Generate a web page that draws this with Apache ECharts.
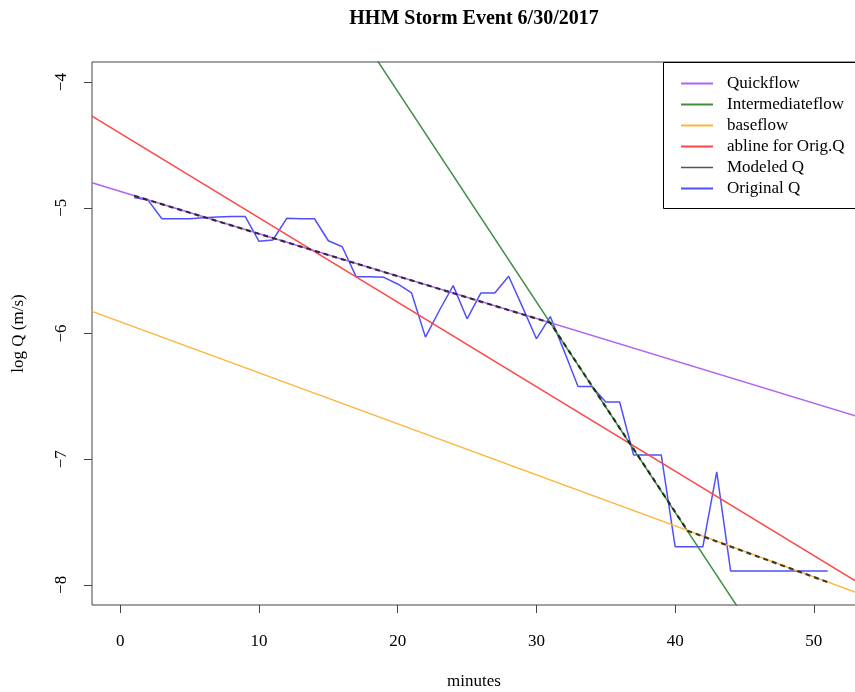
<!DOCTYPE html>
<html>
<head>
<meta charset="utf-8">
<title>HHM Storm Event 6/30/2017</title>
<script src="https://cdn.jsdelivr.net/npm/echarts@6/dist/echarts.min.js"></script>
<style>
  html, body { margin: 0; padding: 0; background: #fff; }
  #chart { width: 855px; height: 692px; }
</style>
</head>
<body>
<div id="chart"></div>
<script>
// Storm hydrograph recession, log discharge vs minutes
const minutes = [1, 2, 3, 4, 5, 6, 7, 8, 9, 10, 11, 12, 13, 14, 15, 16, 17, 18, 19, 20,
  21, 22, 23, 24, 25, 26, 27, 28, 29, 30, 31, 32, 33, 34, 35, 36, 37, 38, 39, 40,
  41, 42, 43, 44, 45, 46, 47, 48, 49, 50, 51];
const originalQ = [-4.918, -4.939, -5.087, -5.087, -5.087, -5.079, -5.074, -5.069, -5.069, -5.267,
  -5.256, -5.084, -5.087, -5.087, -5.262, -5.310, -5.548, -5.548, -5.553, -5.606,
  -5.677, -6.029, -5.817, -5.619, -5.883, -5.677, -5.677, -5.545, -5.790, -6.042,
  -5.865, -6.140, -6.421, -6.421, -6.545, -6.545, -6.966, -6.966, -6.966, -7.696,
  -7.696, -7.696, -7.100, -7.889, -7.889, -7.889, -7.889, -7.889, -7.889, -7.889,
  -7.889];

// Modeled Q: vertices of the piecewise recession (quick -> intermediate -> base)
const modeledX = [1, 31, 40.9, 51];
const modeledQ = [-4.904, -5.915, -7.570, -7.978];

// Straight reference lines, given by their values at the x-axis limits
const lineX = [-2.04, 53.04];
const quickflowQ = [-4.801, -6.657];
const intermediateQ = [-0.385, -9.605];
const baseflowQ = [-5.824, -8.060];
const ablineQ = [-4.270, -7.971];

const xTicks = [0, 10, 20, 30, 40, 50];
const yTicks = [-8, -7, -6, -5, -4];
const xRange = [-2.04, 53.04];
const yRange = [-8.16, -3.84];

const pairs = (xs, ys) => xs.map((x, i) => [x, ys[i]]);
const serif = 'Liberation Serif';
const minus = v => String(v).replace('-', '\u2212');

const chart = echarts.init(document.getElementById('chart'));

const lineSeries = (name, xs, ys, color, extra) => Object.assign({
  name: name,
  type: 'line',
  data: pairs(xs, ys),
  symbol: 'none',
  clip: true,
  lineStyle: { color: color, width: 1.5 },
  itemStyle: { color: color },
  emphasis: { disabled: true },
  animation: false
}, extra || {});

chart.setOption({
  animation: false,
  backgroundColor: '#fff',
  grid: { left: 92, top: 62, width: 764, height: 543, show: true, borderColor: '#444', borderWidth: 1,
    backgroundColor: 'transparent', containLabel: false, outerBoundsMode: 'none' },
  xAxis: {
    type: 'value', min: xRange[0], max: xRange[1],
    name: 'minutes', nameLocation: 'middle', nameGap: 68,
    nameTextStyle: { fontFamily: serif, fontSize: 17, color: '#000' },
    axisLine: { show: false, onZero: false },
    splitLine: { show: false },
    axisTick: { show: true, length: 8, lineStyle: { color: '#444' }, customValues: xTicks },
    axisLabel: { fontFamily: serif, fontSize: 17, color: '#000', margin: 28, customValues: xTicks }
  },
  yAxis: {
    type: 'value', min: yRange[0], max: yRange[1],
    name: 'log Q (m/s)', nameLocation: 'middle', nameGap: 65, nameRotate: 90,
    nameTextStyle: { fontFamily: serif, fontSize: 17, color: '#000' },
    axisLine: { show: false, onZero: false },
    splitLine: { show: false },
    axisTick: { show: true, length: 8, lineStyle: { color: '#444' }, customValues: yTicks },
    axisLabel: { fontFamily: serif, fontSize: 17, color: '#000', rotate: 90, margin: 22,
      customValues: yTicks, formatter: v => minus(v) }
  },
  legend: {
    show: true,
    z: 10,
    orient: 'vertical',
    left: 680, top: 75,
    itemWidth: 32, itemHeight: 14, itemGap: 4,
    padding: 0,
    selectedMode: false,
    itemStyle: { opacity: 0, borderWidth: 0 },
    textStyle: { fontFamily: serif, fontSize: 17, color: '#000', padding: [0, 0, 0, 9] },
    data: [
      { name: 'Quickflow' },
      { name: 'Intermediateflow' },
      { name: 'baseflow' },
      { name: 'abline for Orig.Q' },
      { name: 'Modeled Q', lineStyle: { type: 'solid', color: '#555', width: 1.5 } },
      { name: 'Original Q' }
    ]
  },
  graphic: [
    { type: 'rect', shape: { x: 663.5, y: 62.5, width: 200, height: 146 },
      style: { fill: '#fff', stroke: '#000', lineWidth: 1 }, z: 5 },
    { type: 'text', x: 474, y: 19,
      style: { text: 'HHM Storm Event 6/30/2017', fontFamily: serif, fontSize: 20, fontWeight: 'bold',
        fill: '#000', textAlign: 'center', textVerticalAlign: 'middle' } }
  ],
  series: [
    lineSeries('Original Q', minutes, originalQ, '#4f4fff'),
    lineSeries('abline for Orig.Q', lineX, ablineQ, '#ff4545'),
    lineSeries('Quickflow', lineX, quickflowQ, '#b064f0'),
    lineSeries('Intermediateflow', lineX, intermediateQ, '#3f8f3f'),
    lineSeries('baseflow', lineX, baseflowQ, '#ffb53a'),
    lineSeries('Modeled Q', modeledX, modeledQ, 'rgba(20,20,20,0.8)', {
      lineStyle: { color: 'rgba(20,20,20,0.8)', width: 2.2, type: [5, 4] }
    })
  ]
});
</script>
</body>
</html>
